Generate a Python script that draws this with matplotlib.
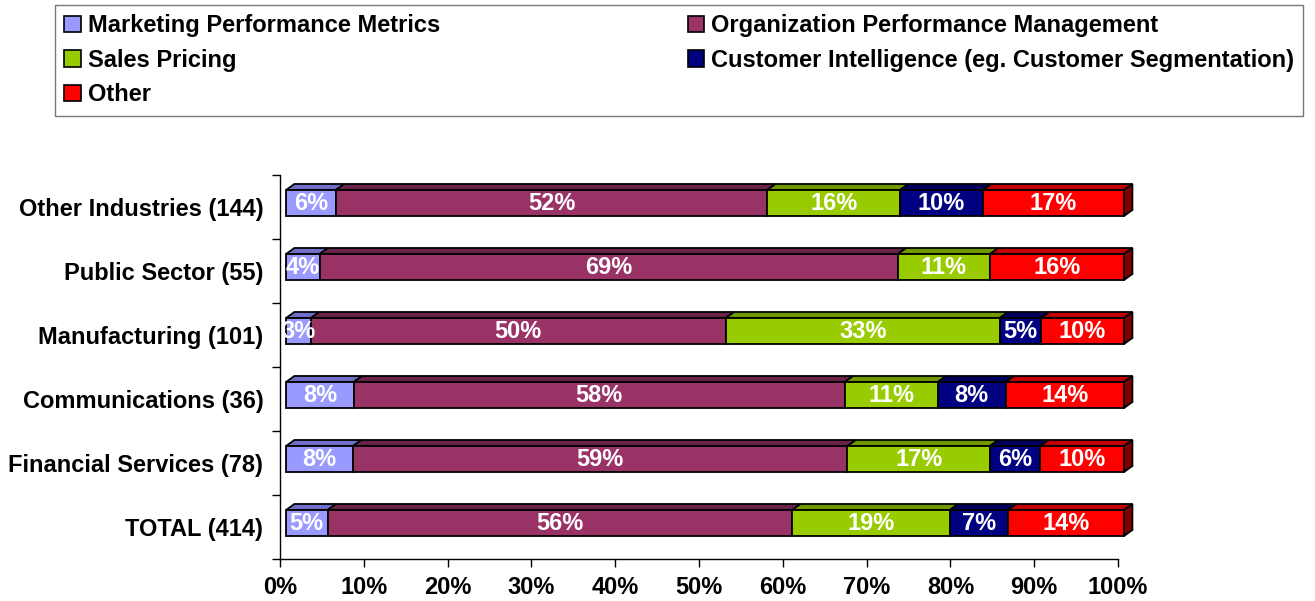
import numpy as np
import matplotlib.pyplot as plt
from matplotlib.patches import Polygon, Patch

categories = ['TOTAL (414)', 'Financial Services (78)', 'Communications (36)',
              'Manufacturing (101)', 'Public Sector (55)', 'Other Industries (144)']
series = ['Marketing Performance Metrics', 'Organization Performance Management',
          'Sales Pricing', 'Customer Intelligence (eg. Customer Segmentation)', 'Other']
marketing = [5, 8, 8, 3, 4, 6]
organization = [56, 59, 58, 50, 69, 52]
sales = [19, 17, 11, 33, 11, 16]
customer = [7, 6, 8, 5, 0, 10]
other = [14, 10, 14, 10, 16, 17]
xticks = np.arange(0, 101, 10)

front_colors = ['#9999FF', '#993366', '#99CC00', '#000080', '#FF0000']
top_colors = ['#6F6FC8', '#6A2348', '#6F9900', '#000060', '#C00000']
side_color = '#800000'

plt.rcParams['font.family'] = ['Liberation Sans', 'DejaVu Sans']
plt.rcParams['font.weight'] = 'bold'

fig = plt.figure(figsize=(13.15, 6.01), dpi=100)
ax = fig.add_axes([280 / 1315, 1 - 559 / 601, 838 / 1315, 384 / 601])

data = np.array([marketing, organization, sales, customer, other], dtype=float)
shares = data / data.sum(axis=0) * 100

# fake 3d look: offsets in data units
x_shift = 0.72
dx, dy = 1.0, 0.094
h = 0.406
y_off = 0.0625
ypos = np.arange(len(categories))

left = np.full(len(categories), x_shift)
for i in range(len(series)):
    w = shares[i]
    for j, y in enumerate(ypos):
        if data[i, j] == 0:
            continue
        x0, x1 = left[j], left[j] + w[j]
        yc = y + y_off
        ax.add_patch(plt.Rectangle((x0, yc - h / 2), w[j], h, facecolor=front_colors[i],
                                   edgecolor='black', lw=1.3, clip_on=False, zorder=3))
        top = [(x0, yc + h / 2), (x1, yc + h / 2), (x1 + dx, yc + h / 2 + dy), (x0 + dx, yc + h / 2 + dy)]
        ax.add_patch(Polygon(top, closed=True, facecolor=top_colors[i], edgecolor='black',
                             lw=1.3, clip_on=False, zorder=2))
        if i == len(series) - 1:
            side = [(x1, yc - h / 2), (x1 + dx, yc - h / 2 + dy), (x1 + dx, yc + h / 2 + dy), (x1, yc + h / 2)]
            ax.add_patch(Polygon(side, closed=True, facecolor=side_color, edgecolor='black',
                                 lw=1.3, clip_on=False, zorder=2))
        ax.text((x0 + x1) / 2, yc, f'{int(data[i, j])}%', ha='center', va='center',
                color='white', fontsize=17, fontweight='bold', zorder=4)
    left += w

ax.set_xlim(0, 100)
ax.set_ylim(-0.5, len(categories) - 0.5)
ax.set_xticks(xticks)
ax.set_xticklabels([f'{t}%' for t in xticks], fontsize=17, fontweight='bold')
ax.set_yticks(ypos)
ax.set_yticklabels(categories, fontsize=17, fontweight='bold')
ax.set_yticks(np.arange(-0.5, len(categories), 1), minor=True)
ax.tick_params(axis='y', which='major', length=0, pad=12)
ax.tick_params(axis='y', which='minor', length=6, width=1)
ax.tick_params(axis='x', length=6, width=1, pad=6)
for s in ['top', 'right']:
    ax.spines[s].set_visible(False)
for s in ['left', 'bottom']:
    ax.spines[s].set_linewidth(1)

handles = [Patch(facecolor=c, edgecolor='black', lw=1.2) for c in front_colors]
order = [0, 2, 4, 1, 3]
leg = fig.legend([handles[k] for k in order], [series[k] for k in order], ncol=2,
                 loc='upper left', bbox_to_anchor=(55 / 1315, 1 - 5 / 601),
                 fontsize=17, frameon=True, fancybox=False,
                 handlelength=0.68, handleheight=0.68, handletextpad=0.3,
                 labelspacing=0.48, borderpad=0.4, borderaxespad=0, columnspacing=10.5)
leg.get_frame().set_edgecolor('#555555')
leg.get_frame().set_linewidth(1)
for t in leg.get_texts():
    t.set_fontweight('bold')

fig.savefig('out.png', dpi=100)
